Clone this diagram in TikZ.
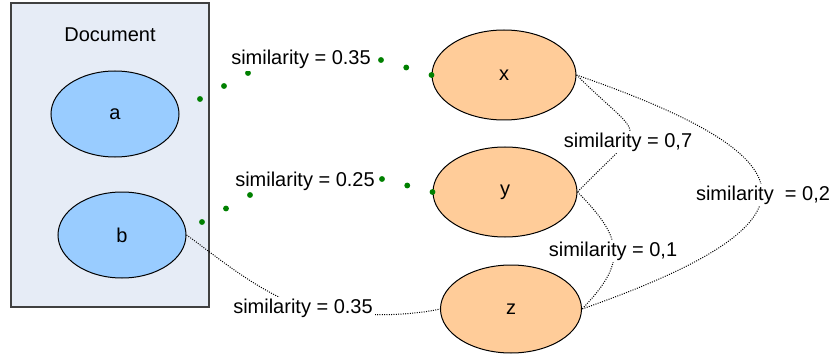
\documentclass[tikz,border=0pt]{standalone}
\usepackage{fontspec}
\setmainfont{Liberation Sans}
\usetikzlibrary{shapes.geometric, calc}
\definecolor{docbg}{RGB}{230,236,246}
\definecolor{wordblue}{RGB}{153,204,255}
\definecolor{termorange}{RGB}{255,204,153}
\definecolor{simgreen}{RGB}{0,128,0}

\begin{document}
\begin{tikzpicture}[x=0.75pt, y=-0.75pt, font=\fontsize{15}{18}\selectfont, docbox/.style={draw=black!75, line width=0.9pt, fill=docbg, minimum width=148.5pt, minimum height=228pt}, word/.style={draw, ellipse, fill=wordblue, line width=0.75pt, minimum width=96pt, minimum height=64.5pt}, term/.style={draw, ellipse, fill=termorange, line width=0.75pt, minimum width=108pt, minimum height=67.5pt}, sim/.style={anchor=base, fill=white, inner sep=1.5pt}, sm/.style={densely dotted, line width=0.75pt}, gdot/.style={fill=simgreen}]
                \useasboundingbox (0,0) rectangle (829,360);
                % nodes
                \node[docbox] (doc) at (110,155) {};
                \node[anchor=base] (doctitle) at (110,42) {Document};
                \node[word] (a) at (115,114) {a};
                \node[word] (b) at (122,235) {b};
                \node[term] (x) at (504,75) {x};
                \node[term] (y) at (505,192) {y};
                \node[term, minimum width=105.75pt, minimum height=66pt] (z) at (511,309) {z};
                \coordinate (ga1) at (200,99);
                \coordinate (ga2) at (248,73);
                \coordinate (ga3) at (381,60);
                \coordinate (gb1) at (202,222);
                \coordinate (gb2) at (250,195);
                \coordinate (gb3) at (382,179);
                \coordinate (mbz) at (302,307);
                % edges
                \foreach \t in {0,0.5,1} {
                    \fill[gdot] ($(ga1)!\t!(ga2)$) circle (2.2pt);
                    \fill[gdot] ($(ga3)!\t!(x.west)$) circle (2.2pt);
                    \fill[gdot] ($(gb1)!\t!(gb2)$) circle (2.2pt);
                    \fill[gdot] ($(gb3)!\t!(y.west)$) circle (2.2pt);
                }
                \draw[sm] (b.east) .. controls (215,255) and (255,290) .. (mbz) .. controls (350,318) and (410,316) .. (z.west);
                \draw[sm] (x.east) .. controls (647,145) and (649,118) .. (y.east);
                \draw[sm] (y.east) .. controls (623,238) and (628,262) .. (z.east);
                \draw[sm] (x.east) .. controls (819,159) and (827,223) .. (z.east);
                % labels
                \node[sim] (sax) at (301,65) {similarity = 0.35};
                \node[sim] (sby) at (305,186) {similarity = 0.25};
                \node[sim] (sbz) at (303,313) {similarity = 0.35};
                \node[sim] (sxy) at (628,147) {similarity = 0,7};
                \node[sim] (syz) at (613,256) {similarity = 0,1};
                \node[sim] (sxz) at (763,200) {similarity\ \ = 0,2};
            \end{tikzpicture}
\end{document}
